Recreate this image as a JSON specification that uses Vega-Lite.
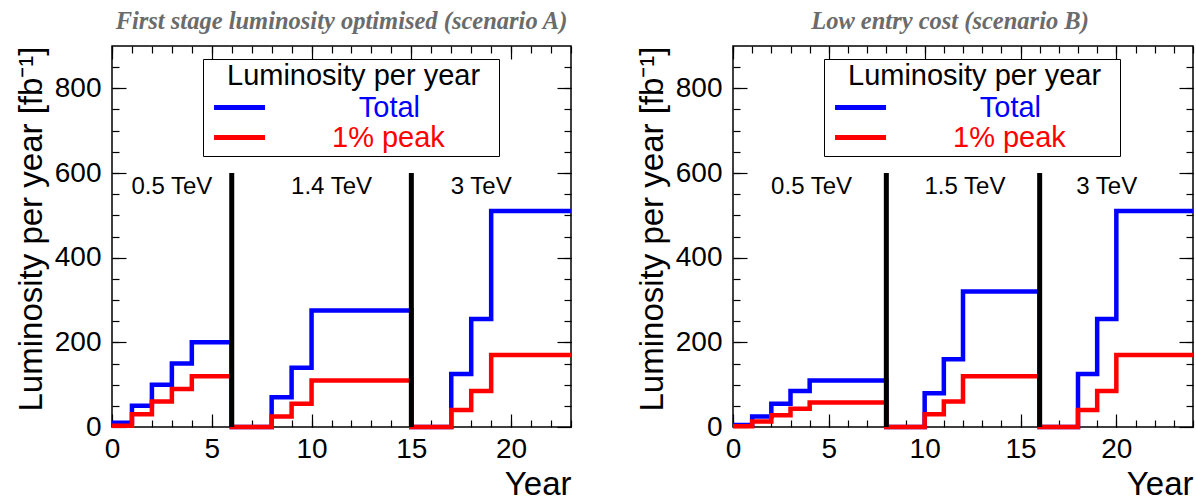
{
  "$schema": "https://vega.github.io/schema/vega-lite/v6.json",
  "padding": {"left": 14, "top": 8, "right": 0, "bottom": 0},
  "background": "#ffffff",
  "config": {
    "view": {"stroke": "#000000", "strokeWidth": 1.5},
    "axis": {
      "grid": false, "domain": false,
      "labelFont": "Liberation Sans", "titleFont": "Liberation Sans",
      "labelFontSize": 28, "titleFontSize": 33, "titleFontWeight": "normal",
      "labelColor": "#000000", "titleColor": "#000000", "tickColor": "#000000", "tickWidth": 1.2,
      "labelFlush": false, "labelOverlap": false
    },
    "title": {
      "font": "Liberation Serif", "fontStyle": "italic", "fontWeight": "bold",
      "fontSize": 24.5, "color": "#6b6b6b", "anchor": "middle", "offset": 11
    }
  },
  "datasets": {
    "linesA": [
      {"year": 0, "lum": 10, "series": "Total"},
      {"year": 1, "lum": 50, "series": "Total"},
      {"year": 2, "lum": 100, "series": "Total"},
      {"year": 3, "lum": 150, "series": "Total"},
      {"year": 4, "lum": 200, "series": "Total"},
      {"year": 6, "lum": 0, "series": "Total"},
      {"year": 8, "lum": 70, "series": "Total"},
      {"year": 9, "lum": 140, "series": "Total"},
      {"year": 10, "lum": 275, "series": "Total"},
      {"year": 15, "lum": 0, "series": "Total"},
      {"year": 17, "lum": 125, "series": "Total"},
      {"year": 18, "lum": 255, "series": "Total"},
      {"year": 19, "lum": 510, "series": "Total"},
      {"year": 23, "lum": 510, "series": "Total"},
      {"year": 0, "lum": 3, "series": "1% peak"},
      {"year": 1, "lum": 30, "series": "1% peak"},
      {"year": 2, "lum": 60, "series": "1% peak"},
      {"year": 3, "lum": 90, "series": "1% peak"},
      {"year": 4, "lum": 120, "series": "1% peak"},
      {"year": 6, "lum": 0, "series": "1% peak"},
      {"year": 8, "lum": 25, "series": "1% peak"},
      {"year": 9, "lum": 55, "series": "1% peak"},
      {"year": 10, "lum": 110, "series": "1% peak"},
      {"year": 15, "lum": 0, "series": "1% peak"},
      {"year": 17, "lum": 40, "series": "1% peak"},
      {"year": 18, "lum": 85, "series": "1% peak"},
      {"year": 19, "lum": 170, "series": "1% peak"},
      {"year": 23, "lum": 170, "series": "1% peak"}
    ],
    "linesB": [
      {"year": 0, "lum": 5, "series": "Total"},
      {"year": 1, "lum": 25, "series": "Total"},
      {"year": 2, "lum": 55, "series": "Total"},
      {"year": 3, "lum": 85, "series": "Total"},
      {"year": 4, "lum": 110, "series": "Total"},
      {"year": 8, "lum": 0, "series": "Total"},
      {"year": 10, "lum": 80, "series": "Total"},
      {"year": 11, "lum": 160, "series": "Total"},
      {"year": 12, "lum": 320, "series": "Total"},
      {"year": 16, "lum": 0, "series": "Total"},
      {"year": 18, "lum": 125, "series": "Total"},
      {"year": 19, "lum": 255, "series": "Total"},
      {"year": 20, "lum": 510, "series": "Total"},
      {"year": 24, "lum": 510, "series": "Total"},
      {"year": 0, "lum": 2, "series": "1% peak"},
      {"year": 1, "lum": 13, "series": "1% peak"},
      {"year": 2, "lum": 28, "series": "1% peak"},
      {"year": 3, "lum": 43, "series": "1% peak"},
      {"year": 4, "lum": 58, "series": "1% peak"},
      {"year": 8, "lum": 0, "series": "1% peak"},
      {"year": 10, "lum": 30, "series": "1% peak"},
      {"year": 11, "lum": 60, "series": "1% peak"},
      {"year": 12, "lum": 120, "series": "1% peak"},
      {"year": 16, "lum": 0, "series": "1% peak"},
      {"year": 18, "lum": 40, "series": "1% peak"},
      {"year": 19, "lum": 85, "series": "1% peak"},
      {"year": 20, "lum": 170, "series": "1% peak"},
      {"year": 24, "lum": 170, "series": "1% peak"}
    ],
    "stagesA": [
      {"year": 6, "lo": 0, "hi": 600},
      {"year": 15, "lo": 0, "hi": 600}
    ],
    "stagesB": [
      {"year": 8, "lo": 0, "hi": 600},
      {"year": 16, "lo": 0, "hi": 600}
    ],
    "energyA": [
      {"year": 3, "lum": 568, "energy": "0.5 TeV"},
      {"year": 11, "lum": 568, "energy": "1.4 TeV"},
      {"year": 18.5, "lum": 568, "energy": "3 TeV"}
    ],
    "energyB": [
      {"year": 4.1, "lum": 568, "energy": "0.5 TeV"},
      {"year": 12.1, "lum": 568, "energy": "1.5 TeV"},
      {"year": 19.5, "lum": 568, "energy": "3 TeV"}
    ]
  },
  "spacing": 54,
  "resolve": {"scale": {"color": "independent"}, "legend": {"color": "independent"}},
  "hconcat": [
    {
      "width": 459, "height": 381,
      "title": {"text": "First stage luminosity optimised (scenario A)"},
      "resolve": {"axis": {"x": "independent", "y": "independent"}},
      "layer": [
        {
          "data": {"name": "linesA"},
          "transform": [{"filter": "datum.series === 'Total'"}],
          "mark": {"type": "line", "interpolate": "step-after", "strokeWidth": 4.5},
          "encoding": {
            "x": {"field": "year", "type": "quantitative",
              "scale": {"domain": [0, 23], "nice": false, "zero": false},
              "axis": {"orient": "bottom", "values": [0, 5, 10, 15, 20], "tickSize": -13, "labelPadding": 21,
                "title": "Year", "titleAnchor": "end", "titlePadding": 5}},
            "y": {"field": "lum", "type": "quantitative",
              "scale": {"domain": [0, 900], "nice": false, "zero": false},
              "axis": {"orient": "left", "values": [0, 200, 400, 600, 800], "tickSize": -14, "labelPadding": 25,
                "title": "Luminosity per year [fb⁻¹]", "titleAnchor": "end", "titlePadding": 6}},
            "color": {"field": "series", "type": "nominal",
              "scale": {"domain": ["Total", "1% peak"], "range": ["#0000ff", "#ff0000"]},
              "legend": {
                "orient": "none", "legendX": 91, "legendY": 13,
                "title": "\u2800Luminosity per year",
                "titleFont": "Liberation Sans", "titleFontSize": 29, "titleFontWeight": "normal",
                "titleColor": "#000000", "titleAnchor": "start", "titlePadding": 2, "titleLimit": 600,
                "padding": 3, "strokeColor": "#000000", "fillColor": "#ffffff",
                "symbolType": "M-3.82,0H2.18", "symbolSize": 289, "symbolStrokeWidth": 5, "symbolOffset": 26,
                "labelFont": "Liberation Sans", "labelFontSize": 29, "labelAlign": "left", "labelOffset": 71,
                "labelExpr": "datum.label === 'Total' ? '\u2800\u2009Total' : '1% peak\u2800\u2009\u200a\u2800'",
                "labelLimit": 400, "rowPadding": 0,
                "encode": {"labels": {"update": {"fill": {"signal": "datum.value === 'Total' ? '#0000ff' : '#ff0000'"}}}}
              }}
          }
        },
        {
          "data": {"name": "linesA"},
          "transform": [{"filter": "datum.series === '1% peak'"}],
          "mark": {"type": "line", "interpolate": "step-after", "strokeWidth": 4.5},
          "encoding": {
            "x": {"field": "year", "type": "quantitative",
              "axis": {"orient": "bottom", "values": [0,1,2,3,4,5,6,7,8,9,10,11,12,13,14,15,16,17,18,19,20,21,22,23], "tickSize": -7, "labels": false, "title": null}},
            "y": {"field": "lum", "type": "quantitative",
              "axis": {"orient": "left", "values": [50,100,150,200,250,300,350,400,450,500,550,600,650,700,750,800,850], "tickSize": -7, "labels": false, "title": null}},
            "color": {"field": "series", "type": "nominal"}
          }
        },
        {
          "data": {"name": "stagesA"},
          "mark": {"type": "rule", "strokeWidth": 5, "color": "#000000"},
          "encoding": {
            "x": {"field": "year", "type": "quantitative",
              "axis": {"orient": "top", "values": [0, 5, 10, 15, 20], "tickSize": -13, "labels": false, "title": null}},
            "y": {"field": "lo", "type": "quantitative",
              "axis": {"orient": "right", "values": [0, 200, 400, 600, 800], "tickSize": -14, "labels": false, "title": null}},
            "y2": {"field": "hi"}
          }
        },
        {
          "data": {"name": "energyA"},
          "mark": {"type": "text", "font": "Liberation Sans", "fontSize": 24, "color": "#000000", "align": "center", "baseline": "middle"},
          "encoding": {
            "x": {"field": "year", "type": "quantitative",
              "axis": {"orient": "top", "values": [0,1,2,3,4,5,6,7,8,9,10,11,12,13,14,15,16,17,18,19,20,21,22,23], "tickSize": -7, "labels": false, "title": null}},
            "y": {"field": "lum", "type": "quantitative",
              "axis": {"orient": "right", "values": [50,100,150,200,250,300,350,400,450,500,550,600,650,700,750,800,850], "tickSize": -7, "labels": false, "title": null}},
            "text": {"field": "energy"}
          }
        }
      ]
    },
    {
      "width": 460, "height": 381,
      "title": {"text": "Low entry cost (scenario B)", "dx": -13},
      "resolve": {"axis": {"x": "independent", "y": "independent"}},
      "layer": [
        {
          "data": {"name": "linesB"},
          "transform": [{"filter": "datum.series === 'Total'"}],
          "mark": {"type": "line", "interpolate": "step-after", "strokeWidth": 4.5},
          "encoding": {
            "x": {"field": "year", "type": "quantitative",
              "scale": {"domain": [0, 24], "nice": false, "zero": false},
              "axis": {"orient": "bottom", "values": [0, 5, 10, 15, 20], "tickSize": -13, "labelPadding": 21,
                "title": "Year", "titleAnchor": "end", "titlePadding": 5}},
            "y": {"field": "lum", "type": "quantitative",
              "scale": {"domain": [0, 900], "nice": false, "zero": false},
              "axis": {"orient": "left", "values": [0, 200, 400, 600, 800], "tickSize": -14, "labelPadding": 25,
                "title": "Luminosity per year [fb⁻¹]", "titleAnchor": "end", "titlePadding": 6}},
            "color": {"field": "series", "type": "nominal",
              "scale": {"domain": ["Total", "1% peak"], "range": ["#0000ff", "#ff0000"]},
              "legend": {
                "orient": "none", "legendX": 91, "legendY": 13,
                "title": "\u2800Luminosity per year",
                "titleFont": "Liberation Sans", "titleFontSize": 29, "titleFontWeight": "normal",
                "titleColor": "#000000", "titleAnchor": "start", "titlePadding": 2, "titleLimit": 600,
                "padding": 3, "strokeColor": "#000000", "fillColor": "#ffffff",
                "symbolType": "M-3.82,0H2.18", "symbolSize": 289, "symbolStrokeWidth": 5, "symbolOffset": 26,
                "labelFont": "Liberation Sans", "labelFontSize": 29, "labelAlign": "left", "labelOffset": 71,
                "labelExpr": "datum.label === 'Total' ? '\u2800\u2009Total' : '1% peak\u2800\u2009\u200a\u2800'",
                "labelLimit": 400, "rowPadding": 0,
                "encode": {"labels": {"update": {"fill": {"signal": "datum.value === 'Total' ? '#0000ff' : '#ff0000'"}}}}
              }}
          }
        },
        {
          "data": {"name": "linesB"},
          "transform": [{"filter": "datum.series === '1% peak'"}],
          "mark": {"type": "line", "interpolate": "step-after", "strokeWidth": 4.5},
          "encoding": {
            "x": {"field": "year", "type": "quantitative",
              "axis": {"orient": "bottom", "values": [0,1,2,3,4,5,6,7,8,9,10,11,12,13,14,15,16,17,18,19,20,21,22,23,24], "tickSize": -7, "labels": false, "title": null}},
            "y": {"field": "lum", "type": "quantitative",
              "axis": {"orient": "left", "values": [50,100,150,200,250,300,350,400,450,500,550,600,650,700,750,800,850], "tickSize": -7, "labels": false, "title": null}},
            "color": {"field": "series", "type": "nominal"}
          }
        },
        {
          "data": {"name": "stagesB"},
          "mark": {"type": "rule", "strokeWidth": 5, "color": "#000000"},
          "encoding": {
            "x": {"field": "year", "type": "quantitative",
              "axis": {"orient": "top", "values": [0, 5, 10, 15, 20], "tickSize": -13, "labels": false, "title": null}},
            "y": {"field": "lo", "type": "quantitative",
              "axis": {"orient": "right", "values": [0, 200, 400, 600, 800], "tickSize": -14, "labels": false, "title": null}},
            "y2": {"field": "hi"}
          }
        },
        {
          "data": {"name": "energyB"},
          "mark": {"type": "text", "font": "Liberation Sans", "fontSize": 24, "color": "#000000", "align": "center", "baseline": "middle"},
          "encoding": {
            "x": {"field": "year", "type": "quantitative",
              "axis": {"orient": "top", "values": [0,1,2,3,4,5,6,7,8,9,10,11,12,13,14,15,16,17,18,19,20,21,22,23,24], "tickSize": -7, "labels": false, "title": null}},
            "y": {"field": "lum", "type": "quantitative",
              "axis": {"orient": "right", "values": [50,100,150,200,250,300,350,400,450,500,550,600,650,700,750,800,850], "tickSize": -7, "labels": false, "title": null}},
            "text": {"field": "energy"}
          }
        }
      ]
    }
  ]
}
